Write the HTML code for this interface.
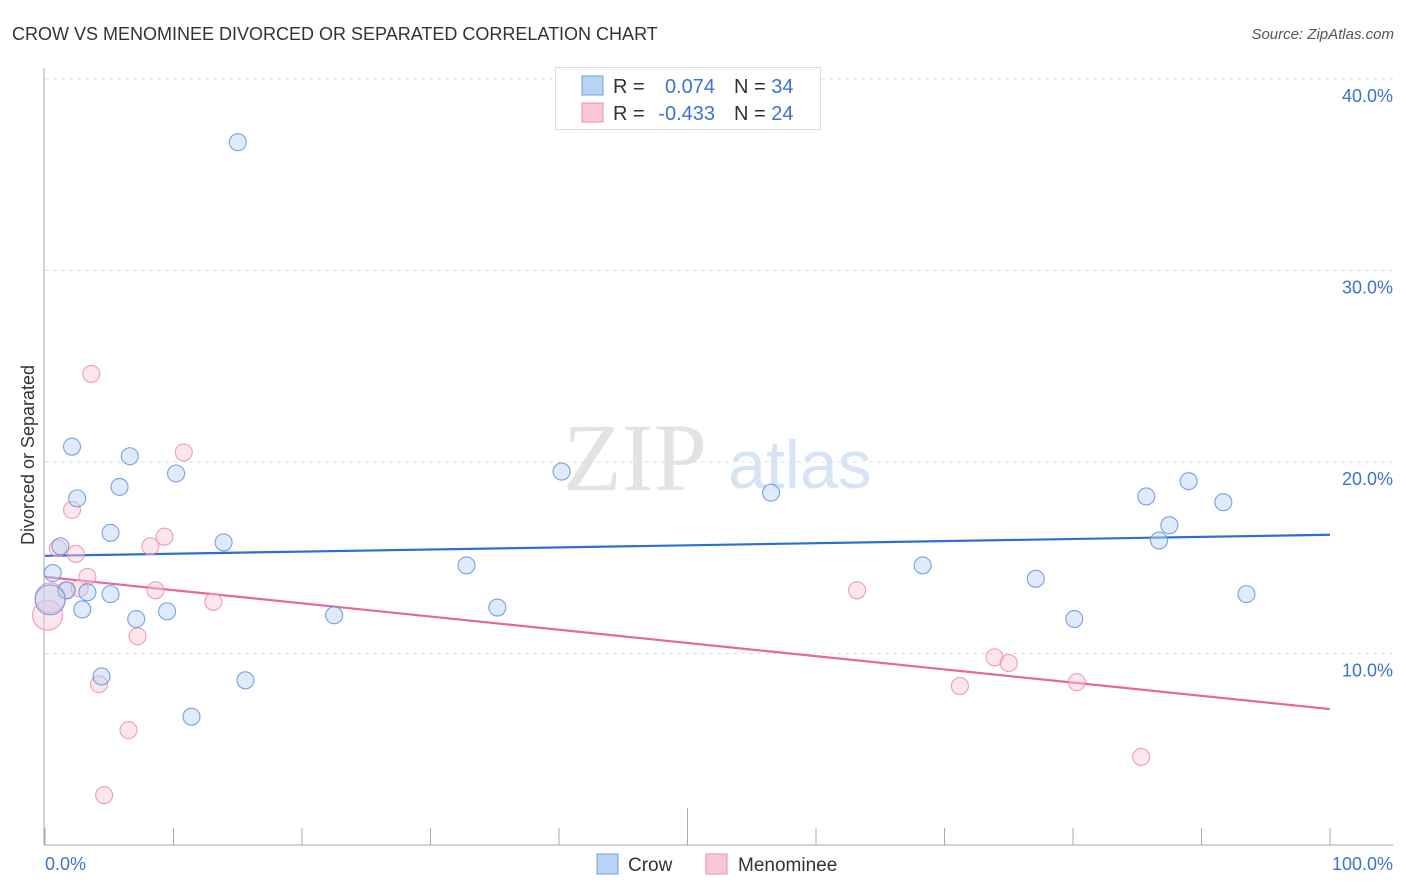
<!DOCTYPE html>
<html><head><meta charset="utf-8"><style>
body{margin:0;background:#fff;font-family:"Liberation Sans",sans-serif}
svg{display:block}
</style></head><body>
<svg id="chart" width="1406" height="892">
<text x="12" y="40" font-size="18" fill="#333">CROW VS MENOMINEE DIVORCED OR SEPARATED CORRELATION CHART</text>
<text x="1394" y="39" font-size="15" fill="#555" font-style="italic" text-anchor="end">Source: ZipAtlas.com</text>
<text x="635" y="490" font-size="96" font-family="Liberation Serif,serif" fill="#e3e3e3" text-anchor="middle">ZIP</text>
<text x="800" y="488" font-size="68" fill="#d6e4f5" text-anchor="middle">atlas</text>
<g id="grid"></g><g id="axes"></g><g id="trend"></g><g id="pts"></g>
<text transform="translate(34,455) rotate(-90)" font-size="18" fill="#333" text-anchor="middle">Divorced or Separated</text>
<text x="45" y="870" font-size="18" fill="#3b73d0">0.0%</text>
<text x="1393" y="870" font-size="18" fill="#3b73d0" text-anchor="end">100.0%</text>
<g>
<rect x="555.5" y="67.5" width="265" height="62" fill="#fff" stroke="#ddd"/>
<rect x="582" y="76" width="21" height="19" fill="#b9d3f5" stroke="#6f9fe0"/>
<rect x="582" y="103" width="21" height="19" fill="#f9c7d6" stroke="#eb8fab"/>
<text x="613" y="93" font-size="20" fill="#333">R =</text>
<text x="715" y="93" font-size="20" fill="#3b73d0" text-anchor="end">0.074</text>
<text x="734" y="93" font-size="20" fill="#333">N = <tspan fill="#3b73d0">34</tspan></text>
<text x="613" y="120" font-size="20" fill="#333">R =</text>
<text x="715" y="120" font-size="20" fill="#3b73d0" text-anchor="end">-0.433</text>
<text x="734" y="120" font-size="20" fill="#333">N = <tspan fill="#3b73d0">24</tspan></text>
</g>
<g>
<rect x="597" y="854" width="21" height="20" fill="#b9d3f5" stroke="#6f9fe0"/>
<text x="628" y="871" font-size="19" fill="#333">Crow</text>
<rect x="706" y="854" width="21" height="20" fill="#f9c7d6" stroke="#eb8fab"/>
<text x="738" y="871" font-size="19" fill="#333">Menominee</text>
</g>
</svg>
<script>
const crowX=[15.0,2.1,6.6,10.2,2.5,5.8,5.1,13.9,1.2,0.6,1.7,3.3,5.1,2.9,9.5,7.1,0.4,22.5,4.4,15.6,11.4,40.2,32.8,35.2,56.5,68.3,77.1,80.1,85.7,89.0,87.5,86.7,91.7,93.5];
const crowY=[36.7,20.8,20.3,19.4,18.1,18.7,16.3,15.8,15.6,14.2,13.3,13.2,13.1,12.3,12.2,11.8,12.8,12.0,8.8,8.6,6.7,19.5,14.6,12.4,18.4,14.6,13.9,11.8,18.2,19.0,16.7,15.9,17.9,13.1];
const menX=[3.6,10.8,2.1,9.3,8.2,1.0,2.4,3.3,8.6,13.1,7.2,4.2,6.5,4.6,0.2,1.6,63.2,73.9,75.0,71.2,80.3,85.3,0.4,2.7];
const menY=[24.6,20.5,17.5,16.1,15.6,15.5,15.2,14.0,13.3,12.7,10.9,8.4,6.0,2.6,12.0,13.3,13.3,9.8,9.5,8.3,8.5,4.6,12.9,13.4];
const crowTrend=[15.1,16.2];
const menTrend=[14.0,7.1];
const yTicks=[10,20,30,40];
const yTickLabels=["10.0%","20.0%","30.0%","40.0%"];
const xTicks=[0,10,20,30,40,50,60,70,80,90,100];
const NS="http://www.w3.org/2000/svg";
const sx=v=>45+v*12.85, sy=v=>845-v*19.15;
function mk(t,a,p){const e=document.createElementNS(NS,t);for(const k in a)e.setAttribute(k,a[k]);document.getElementById(p).appendChild(e);return e;}
yTicks.forEach((t,i)=>{
 const l=mk('line',{x1:45,x2:1393,y1:sy(t),y2:sy(t),stroke:'#ddd','stroke-dasharray':'4,4'},'grid');
 
 
 const tx=mk('text',{x:1393,y:sy(t)+23,'font-size':18,fill:'#3b73d0','text-anchor':'end'},'grid');
 tx.textContent=yTickLabels[i];
 
 
});
let a=mk('line',{x1:44,x2:44,y1:68,y2:845,stroke:'#aaa'},'axes');


a=mk('line',{x1:44,x2:1393,y1:845,y2:845,stroke:'#aaa'},'axes');


xTicks.forEach(t=>{
 const k=mk('line',{x1:sx(t),x2:sx(t),y1:t==50?808:828,y2:845,stroke:'#aaa'},'axes');
 
 
});
function trend(v,c,n){const l=mk('line',{x1:sx(0),x2:sx(100),y1:sy(v[0]),y2:sy(v[1]),stroke:c,'stroke-width':2.2},'trend');
 
 }
function pts(X,Y,f,s,n){X.forEach((x,i)=>{const big=x<0.5;
 const c=mk('circle',{cx:sx(x),cy:sy(Y[i]),r:big?15:8.5,fill:f,'fill-opacity':0.45,stroke:s,'stroke-width':1.1,'stroke-opacity':0.85},'pts');
 
 });}
pts(menX,menY,'#f9c7d6','#eb8fab','menominee-point');
pts(crowX,crowY,'#b9d3f5','#5f93dc','crow-point');
trend(crowTrend,'#2a6fd1','crow-trend-line');
trend(menTrend,'#e8679a','menominee-trend-line');
</script>
</body></html>
